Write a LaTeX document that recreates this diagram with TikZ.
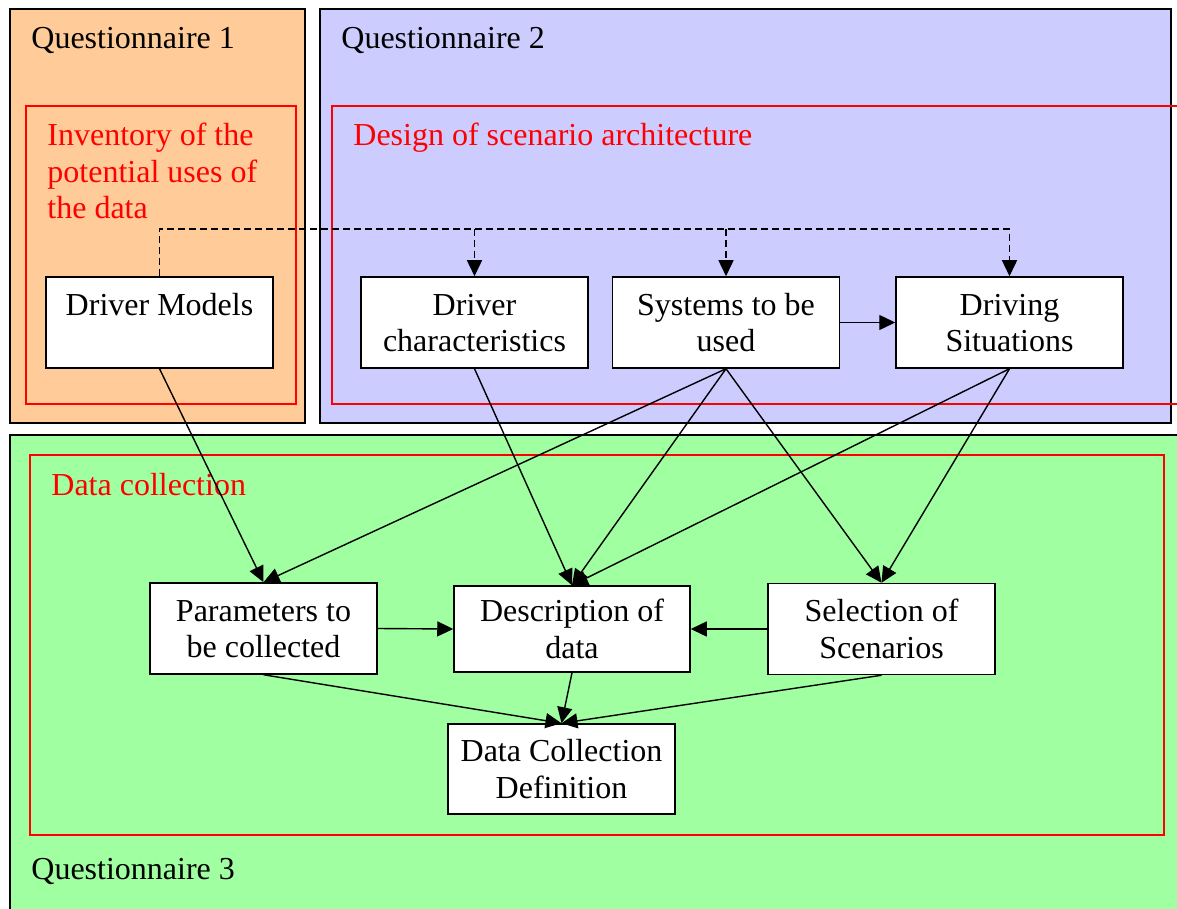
\documentclass[tikz,border=0pt]{standalone}
\usepackage{fontspec}
\setmainfont{Liberation Serif}
\usetikzlibrary{arrows.meta}
\definecolor{qonefill}{RGB}{255,204,153}
\definecolor{qtwofill}{RGB}{204,204,255}
\definecolor{qthreefill}{RGB}{160,255,160}
\newcommand{\boxstrut}{\rule[-0.2\baselineskip]{0pt}{\baselineskip}}
\tikzset{
  panel/.style={draw=black, line width=0.75pt},
  stage/.style={draw=red, line width=0.75pt},
  panellabel/.style={anchor=base west, inner sep=0pt},
  stagelabel/.style={panellabel, text=red},
  procbox/.style={draw, fill=white, line width=0.75pt, align=center, inner sep=0pt,
    minimum width=113.5pt, minimum height=45.5pt},
  flow/.style={-{Triangle[length=8pt,width=7.5pt]}, line width=0.7pt},
  dashflow/.style={flow, dash pattern=on 3.5pt off 2pt}
}
\begin{document}
\begin{tikzpicture}[x=0.5pt,y=-0.5pt,font=\fontsize{16}{18.4}\selectfont]
\useasboundingbox (0,0) rectangle (1177,909);
\clip (0,0) rectangle (1177,909);

% questionnaire panels
\filldraw[panel, fill=qonefill] (10,9) rectangle (305,423);
\filldraw[panel, fill=qtwofill] (320,9) rectangle (1171,423);
\filldraw[panel, fill=qthreefill] (10,435) rectangle (1190,925);
\node[panellabel] (qone) at (31,49) {Questionnaire 1};
\node[panellabel] (qtwo) at (341,49) {Questionnaire 2};
\node[panellabel] (qthree) at (31,879) {Questionnaire 3};

% red stages
\draw[stage] (26,106) rectangle (296,404);
\draw[stage] (332,106) rectangle (1190,404);
\draw[stage] (30,455) rectangle (1164,835);
\node[stagelabel, align=left] (inventory) at (47,219) {Inventory of the\\potential uses of\\the data};
\node[stagelabel] (design) at (353,146) {Design of scenario architecture};
\node[stagelabel] (collection) at (51,495) {Data collection};

% boxes
\node[procbox] (dm) at (159.5,322.5) {\boxstrut Driver Models\\\boxstrut};
\node[procbox] (dc) at (474.5,322.5) {\boxstrut Driver\\\boxstrut characteristics};
\node[procbox] (su) at (726,322.5) {\boxstrut Systems to be\\\boxstrut used};
\node[procbox] (ds) at (1009.5,322.5) {\boxstrut Driving\\\boxstrut Situations};
\node[procbox] (pc) at (263.5,628.5) {\boxstrut Parameters to\\\boxstrut be collected};
\node[procbox, minimum width=118pt, minimum height=43pt] (dd) at (572,629) {\boxstrut Description of\\\boxstrut data};
\node[procbox] (ss) at (881.5,629) {\boxstrut Selection of\\\boxstrut Scenarios};
\node[procbox, minimum height=45pt] (dcd) at (561.5,769) {\boxstrut Data Collection\\\boxstrut Definition};

% dashed links
\coordinate (dashend) at (1009.5,229);
\draw[dashflow] (dm.north) |- (dashend) -- (ds.north);
\draw[dashflow] (dc.north |- dashend) -- (dc.north);
\draw[dashflow] (su.north |- dashend) -- (su.north);

% solid links
\draw[flow] (su.east) -- (ds.west);
\draw[flow] (dm.south) -- (pc.north);
\draw[flow] (dc.south) -- (dd.north);
\draw[flow] (su.south) -- (pc.north);
\draw[flow] (su.south) -- (dd.north);
\draw[flow] (su.south) -- (ss.north);
\draw[flow] (ds.south) -- (dd.north);
\draw[flow] (ds.south) -- (ss.north);
\draw[flow] (pc.east) -- (dd.west);
\draw[flow] (ss.west) -- (dd.east);
\draw[flow] (pc.south) -- (dcd.north);
\draw[flow] (dd.south) -- (dcd.north);
\draw[flow] (ss.south) -- (dcd.north);
\end{tikzpicture}
\end{document}
